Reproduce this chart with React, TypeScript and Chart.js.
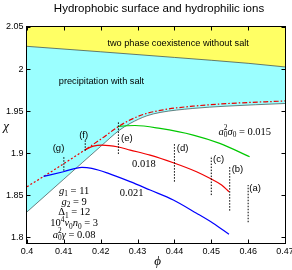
import React, { useEffect, useRef } from "react";
import { Chart, registerables } from "chart.js";

Chart.register(...registerables);

// ---------- data ----------
const xTickValues = [0.4, 0.41, 0.42, 0.43, 0.44, 0.45, 0.46, 0.47];
const yTickValues = [1.8, 1.85, 1.9, 1.95, 2.0, 2.05];

// upper boundary: two phase coexistence without salt
const yellowPhi = [0.4, 0.42, 0.44, 0.46, 0.47];
const yellowChi = [2.027, 2.0205, 2.0138, 2.0068, 2.0025];

// lower boundary of precipitation-with-salt region
const cyanPhi = [0.4, 0.41, 0.42, 0.425, 0.428, 0.4325, 0.4361, 0.445, 0.454, 0.47];
const cyanChi = [1.83, 1.869, 1.908, 1.927, 1.9353, 1.9443, 1.9483, 1.9531, 1.9558, 1.959];

// red dash-dot boundary
const boundPhi = [0.4, 0.405, 0.41, 0.4158, 0.42, 0.4248, 0.428, 0.4316, 0.437, 0.445, 0.454, 0.47];
const boundChi = [1.86, 1.8735, 1.8875, 1.904, 1.9165, 1.9315, 1.9395, 1.946, 1.9515, 1.9558, 1.9588, 1.962];

// a0^2 sigma0 = 0.015
const greenPhi = [0.4248, 0.4293, 0.4361, 0.4451, 0.4523, 0.4604];
const greenChi = [1.9318, 1.9328, 1.9293, 1.9214, 1.9115, 1.8956];

// a0^2 sigma0 = 0.018
const redPhi = [0.4158, 0.418, 0.4203, 0.4248, 0.428, 0.4334, 0.4397, 0.446, 0.4496, 0.4528, 0.4548];
const redChi = [1.904, 1.9082, 1.9095, 1.9072, 1.9036, 1.8976, 1.8885, 1.8778, 1.87, 1.862, 1.854];

// a0^2 sigma0 = 0.021
const bluePhi = [0.4045, 0.4099, 0.4149, 0.4176, 0.4221, 0.428, 0.4334, 0.4397, 0.446, 0.4505, 0.4548];
const blueChi = [1.8722, 1.8778, 1.883, 1.8818, 1.8759, 1.866, 1.856, 1.8442, 1.8284, 1.8165, 1.8034];

// dotted vertical markers (a)-(g)
const markerLabels = ["(a)", "(b)", "(c)", "(d)", "(e)", "(f)", "(g)"];
const markerPhi = [0.46, 0.455, 0.45, 0.44, 0.4248, 0.4158, 0.41];
const markerLow = [1.8177, 1.8315, 1.85, 1.866, 1.899, 1.9027, 1.879];
const markerHigh = [1.862, 1.8846, 1.8965, 1.9122, 1.9372, 1.9153, 1.8965];

// ---------- styling / text ----------
const SANS = '"Liberation Sans", Arial, Helvetica, sans-serif';
const SERIF = '"Liberation Serif", "Times New Roman", serif';

type Seg = { t?: string; it?: boolean; sub?: string; sup?: string };

function drawRich(ctx: CanvasRenderingContext2D, segs: Seg[], cx: number, cy: number, size: number) {
  const small = size * 0.7;
  const font = (it: boolean, s: number) => `${it ? "italic " : ""}${s}px ${SERIF}`;
  let total = 0;
  for (const s of segs) {
    if (s.t) {
      ctx.font = font(!!s.it, size);
      total += ctx.measureText(s.t).width;
    }
    ctx.font = font(false, small);
    let sw = 0;
    if (s.sub) sw = Math.max(sw, ctx.measureText(s.sub).width);
    if (s.sup) sw = Math.max(sw, ctx.measureText(s.sup).width);
    total += sw;
  }
  let x = cx - total / 2;
  const base = cy + size * 0.35;
  ctx.textAlign = "left";
  ctx.textBaseline = "alphabetic";
  for (const s of segs) {
    if (s.t) {
      ctx.font = font(!!s.it, size);
      ctx.fillText(s.t, x, base);
      x += ctx.measureText(s.t).width;
    }
    ctx.font = font(false, small);
    let sw = 0;
    if (s.sub) {
      ctx.fillText(s.sub, x, base + size * 0.22);
      sw = Math.max(sw, ctx.measureText(s.sub).width);
    }
    if (s.sup) {
      ctx.fillText(s.sup, x, base - size * 0.42);
      sw = Math.max(sw, ctx.measureText(s.sup).width);
    }
    x += sw;
  }
}

const paramLines: Seg[][] = [
  [{ t: "g", it: true, sub: "1" }, { t: " = 11" }],
  [{ t: "g", it: true, sub: "2" }, { t: " = 9" }],
  [{ t: "Δ", sub: "1" }, { t: " = 12" }],
  [{ t: "10", sup: "4" }, { t: "v", it: true, sub: "0" }, { t: "n", it: true, sub: "0" }, { t: " = 3" }],
  [{ t: "a", it: true, sub: "0", sup: "2" }, { t: "γ", it: true }, { t: " = 0.08" }],
];
const paramChi = [1.8555, 1.843, 1.8303, 1.8172, 1.8038];

const markerLabelPos: [number, number][] = [
  [0.4619, 1.8581],
  [0.4571, 1.8806],
  [0.452, 1.8925],
  [0.4422, 1.9056],
  [0.4271, 1.9175],
  [0.41538, 1.9214],
  [0.40855, 1.9056],
];

const decorPlugin = {
  id: "decor",
  afterDatasetsDraw(chart: any) {
    const { ctx, chartArea: a, scales } = chart;
    const xs = scales.x;
    const ys = scales.y;
    ctx.save();
    // frame
    ctx.strokeStyle = "#000";
    ctx.lineWidth = 1;
    const L = Math.round(a.left) - 0.5;
    const T = Math.round(a.top) - 0.5;
    const R = Math.round(a.right) + 0.5;
    const B = Math.round(a.bottom) + 0.5;
    ctx.strokeRect(L, T, R - L, B - T);
    // inward ticks
    ctx.beginPath();
    for (const v of xTickValues) {
      const p = Math.round(xs.getPixelForValue(v)) + 0.5;
      ctx.moveTo(p, B);
      ctx.lineTo(p, B - 4);
      ctx.moveTo(p, T);
      ctx.lineTo(p, T + 4);
    }
    for (const v of yTickValues) {
      const p = Math.round(ys.getPixelForValue(v)) + 0.5;
      ctx.moveTo(L, p);
      ctx.lineTo(L + 4, p);
      ctx.moveTo(R, p);
      ctx.lineTo(R - 4, p);
    }
    ctx.stroke();
    ctx.restore();
  },
  afterDraw(chart: any) {
    const { ctx, scales } = chart;
    const xs = scales.x;
    const ys = scales.y;
    const X = (v: number) => xs.getPixelForValue(v);
    const Y = (v: number) => ys.getPixelForValue(v);
    ctx.save();
    ctx.fillStyle = "#000";
    ctx.textAlign = "center";
    ctx.textBaseline = "middle";
    // title
    ctx.font = `11.5px ${SANS}`;
    ctx.fillText("Hydrophobic surface and hydrophilic ions", 159, 8.5);
    // region labels
    ctx.font = `9.2px ${SANS}`;
    ctx.fillText("two phase coexistence without salt", X(0.441), Y(2.0303));
    ctx.fillText("precipitation with salt", X(0.4202), Y(1.9847));
    // marker labels
    ctx.font = `9.5px ${SANS}`;
    markerLabels.forEach((lab, i) => {
      const [px, py] = markerLabelPos[i];
      ctx.fillText(lab, X(px), Y(py));
    });
    // curve labels
    drawRich(ctx, [{ t: "a", it: true, sub: "0", sup: "2" }, { t: "σ", it: true, sub: "0" }, { t: " = 0.015" }], X(0.4591), Y(1.9261), 10.5);
    drawRich(ctx, [{ t: "0.018" }], X(0.4317), Y(1.8878), 10.5);
    drawRich(ctx, [{ t: "0.021" }], X(0.4284), Y(1.8533), 10.5);
    // parameters
    paramLines.forEach((segs, i) => drawRich(ctx, segs, X(0.4128), Y(paramChi[i]), 10.5));
    // axis titles
    ctx.font = `italic 13px ${SERIF}`;
    ctx.textAlign = "center";
    ctx.textBaseline = "middle";
    ctx.fillText("ϕ", 157.5, 262);
    ctx.fillText("χ", 6, 127);
    ctx.restore();
  },
};

function pts(xs: number[], ys: number[]) {
  return xs.map((x, i) => ({ x, y: ys[i] }));
}

export default function App() {
  const ref = useRef<HTMLCanvasElement | null>(null);

  useEffect(() => {
    document.body.style.margin = "0";
    const markerSets = markerPhi.map((p, i) => ({
      label: markerLabels[i],
      data: [
        { x: p, y: markerLow[i] },
        { x: p, y: markerHigh[i] },
      ],
      borderColor: "#000",
      borderWidth: 1,
      borderDash: [1.5, 1.5],
      pointRadius: 0,
      fill: false,
    }));
    const curve = (label: string, xs: number[], ys: number[], color: string, extra: any = {}) => ({
      label,
      data: pts(xs, ys),
      borderColor: color,
      borderWidth: 1.2,
      pointRadius: 0,
      fill: false,
      cubicInterpolationMode: "monotone",
      ...extra,
    });
    const chart = new Chart(ref.current as HTMLCanvasElement, {
      type: "line",
      data: {
        datasets: [
          ...markerSets,
          curve("0.021", bluePhi, blueChi, "rgb(0,0,255)"),
          curve("0.018", redPhi, redChi, "rgb(240,0,0)"),
          curve("0.015", greenPhi, greenChi, "rgb(0,200,0)"),
          curve("boundary", boundPhi, boundChi, "rgb(235,0,0)", {
            segment: {
              borderDash: (c: any) => (c.p0.parsed.x < 0.4157 ? [2, 2] : [5, 2, 1.5, 2]),
            },
          }),
          curve("coexistence", yellowPhi, yellowChi, "rgba(60,70,70,0.9)", {
            borderWidth: 0.8,
            fill: "end",
            backgroundColor: "rgb(255,255,100)",
          }),
          curve("precipitation", cyanPhi, cyanChi, "rgba(60,80,80,0.9)", {
            borderWidth: 0.8,
            fill: "end",
            backgroundColor: "rgb(155,255,255)",
          }),
        ] as any,
      },
      options: {
        animation: false,
        responsive: false,
        devicePixelRatio: 1,
        layout: { padding: { top: 27, right: 7, left: 0, bottom: 0 } },
        plugins: {
          legend: { display: false },
          title: { display: false },
          tooltip: { enabled: false },
        },
        scales: {
          x: {
            type: "linear",
            min: 0.4,
            max: 0.47,
            grid: { display: false, drawTicks: false },
            border: { display: false },
            ticks: {
              autoSkip: false,
              maxRotation: 0,
              padding: 3.5,
              color: "#000",
              font: { family: SANS, size: 9 },
              callback: (v: any) => String(+Number(v).toFixed(3)),
            },
            afterBuildTicks: (s: any) => {
              s.ticks = xTickValues.map((v) => ({ value: v }));
            },
            afterFit: (s: any) => {
              s.height = 27;
              s.paddingLeft = 0;
              s.paddingRight = 0;
            },
          },
          y: {
            type: "linear",
            min: 1.793,
            max: 2.05,
            grid: { display: false, drawTicks: false },
            border: { display: false },
            ticks: {
              autoSkip: false,
              padding: 3.5,
              color: "#000",
              font: { family: SANS, size: 9 },
              callback: (v: any) => String(+Number(v).toFixed(3)),
            },
            afterBuildTicks: (s: any) => {
              s.ticks = yTickValues.map((v) => ({ value: v }));
            },
            afterFit: (s: any) => {
              s.width = 27;
              s.paddingTop = 0;
              s.paddingBottom = 0;
            },
          },
        },
      } as any,
      plugins: [decorPlugin],
    });
    return () => chart.destroy();
  }, []);

  return <canvas ref={ref} width={292} height={270} style={{ display: "block" }} />;
}
